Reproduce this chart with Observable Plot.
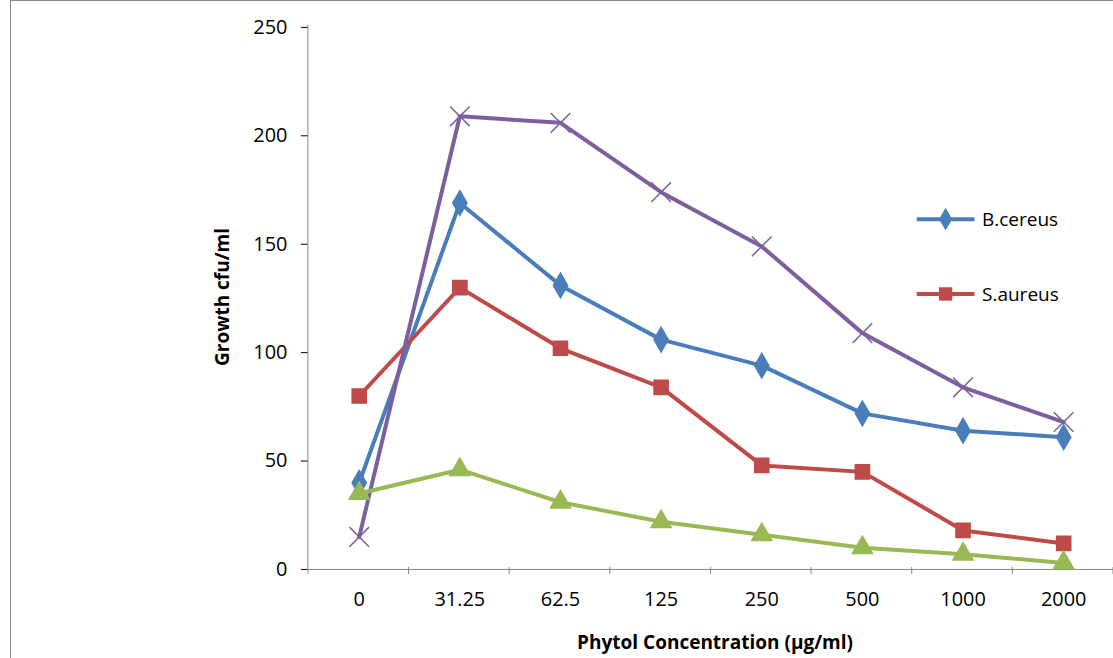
<!DOCTYPE html>
<html><head><meta charset="utf-8">
<script src="https://cdn.jsdelivr.net/npm/d3@7"></script>
<script src="https://cdn.jsdelivr.net/npm/@observablehq/plot@0.6"></script>
<style>
body{margin:0;background:#fff;font-family:"Open Sans",sans-serif;overflow:hidden}
#wrap{position:relative;width:1113px;height:658px;overflow:hidden}
#frame{position:absolute;left:10px;top:0;width:1200px;height:700px;border:1px solid #888;box-sizing:border-box}
.lab{position:absolute;font-weight:bold;font-size:19px;color:#000}
.leg{position:absolute;font-size:19px;left:982px}
</style></head><body>
<div id="wrap"><div id="frame"></div><div id="chart" style="position:absolute;left:0;top:0"></div>
<div class="lab" style="left:0;width:1430px;text-align:center;top:629px">Phytol Concentration (µg/ml)</div>
<div class="lab" style="left:222px;top:297px;transform:translate(-50%,-50%) rotate(-90deg);white-space:nowrap">Growth cfu/ml</div>
</div>
<script>
const categories=["0","31.25","62.5","125","250","500","1000","2000"];
const bcereus=[40,169,131,106,94,72,64,61];
const saureus=[80,130,102,84,48,45,18,12];
const purple=[15,209,206,174,149,109,84,68];
const green=[35,46,31,22,16,10,7,3];
const series=[
 {name:"B.cereus",vals:bcereus,color:"#4a7ebb",sym:"diamond"},
 {name:"S.aureus",vals:saureus,color:"#be4b48",sym:"square"},
 {name:"s3",vals:purple,color:"#7d5fa0",sym:"times"},
 {name:"s4",vals:green,color:"#98b954",sym:"triangle"}
];
const data=series.flatMap(s=>s.vals.map((v,i)=>({cat:categories[i],v,s:s.name})));
const m=[];
for(const s of series){
 const d=data.filter(r=>r.s===s.name);
 m.push(Plot.line(d,{x:"cat",y:"v",stroke:s.color,strokeWidth:4}));
 if(s.sym==="times") m.push(Plot.dot(d,{x:"cat",y:"v",symbol:"times",stroke:s.color,strokeWidth:1.5,r:9}));
 else m.push(Plot.dot(d,{x:"cat",y:"v",symbol:s.sym,fill:s.color,stroke:s.color,r:s.sym==="square"?8:7.5}));
}
const chart=Plot.plot({
 width:1117,height:658,marginLeft:309,marginRight:0,marginTop:27,marginBottom:87,
 style:{fontFamily:"Open Sans, sans-serif",fontSize:"20px",background:"transparent",overflow:"visible"},
 x:{type:"point",domain:categories,padding:0.5,label:null},
 y:{domain:[0,250],label:null},
 marks:[
  Plot.axisX({tickSize:0,tickPadding:22,fontSize:20}),
  Plot.axisY({ticks:[0,50,100,150,200,250],tickSize:7,tickPadding:14,fontSize:20}),
  Plot.ruleY([0],{stroke:"#888"}),
  ...m
 ]
});
document.getElementById("chart").appendChild(chart);
const svg=d3.select(chart);
svg.append("line").attr("x1",309).attr("x2",309).attr("y1",25).attr("y2",569).attr("stroke","#888");
for(let i=0;i<=8;i++){const x=309+i*101;svg.append("line").attr("x1",x).attr("x2",x).attr("y1",569).attr("y2",576).attr("stroke","#888");}
const wrap=document.getElementById("wrap");
[[series[0],220],[series[1],295]].forEach(([s,y])=>{
 svg.append("line").attr("x1",920).attr("x2",978).attr("y1",y).attr("y2",y).attr("stroke",s.color).attr("stroke-width",4);
 svg.append("path").attr("d",d3.symbol(s.sym==="diamond"?d3.symbolDiamond:d3.symbolSquare, s.sym==="diamond"?150:180)()).attr("transform",`translate(949,${y})`).attr("fill",s.color);
 const t=document.createElement("div");t.className="leg";t.style.top=(y-14)+"px";t.textContent=s.name;wrap.appendChild(t);
});
</script></body></html>
